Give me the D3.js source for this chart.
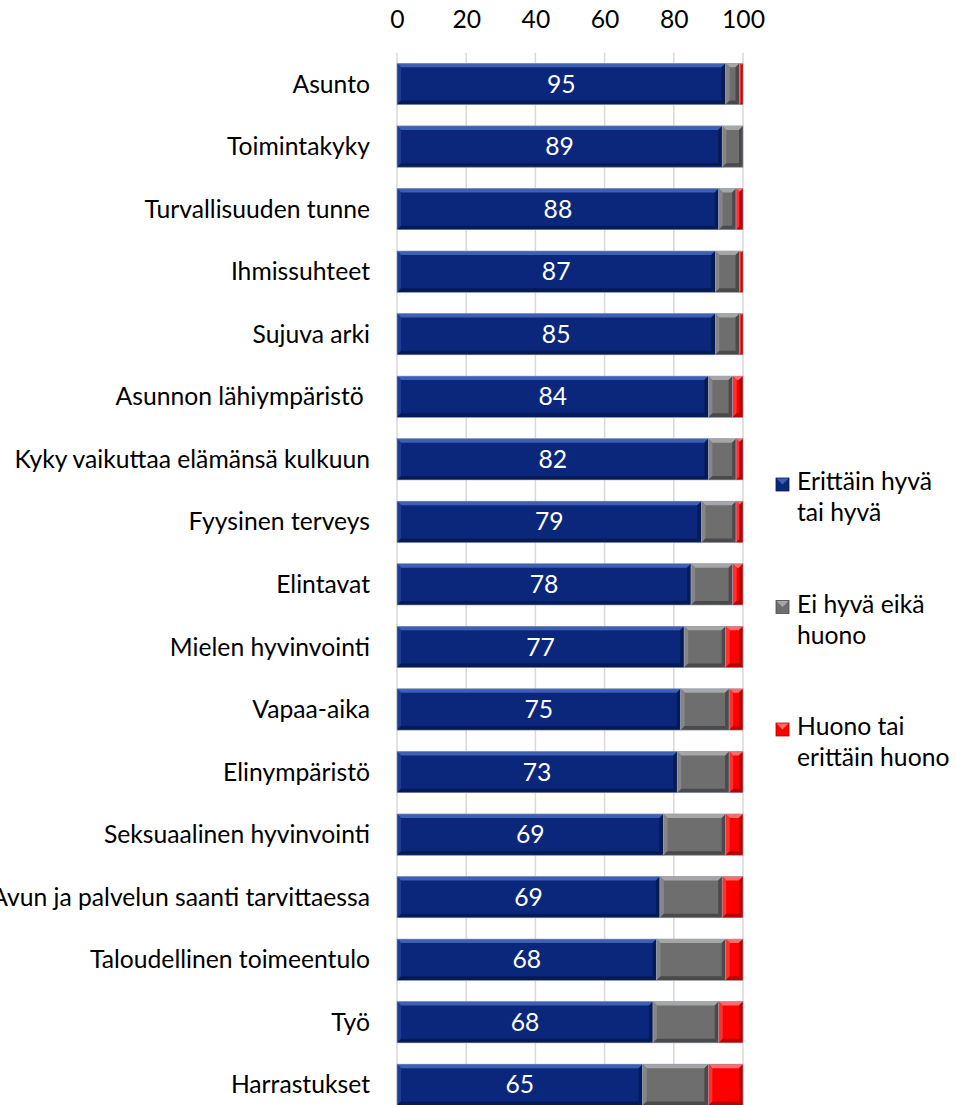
<!DOCTYPE html>
<html>
<head>
<meta charset="utf-8">
<title>Hyvinvointi</title>
<script src="https://cdn.jsdelivr.net/npm/d3@7"></script>
<style>
  body { margin: 0; background: #fff; }
  text { font-family: Lato, "Open Sans", sans-serif; }
</style>
</head>
<body>
<div id="chart"></div>
<script>
// categories, top to bottom
var categories = ["Asunto", "Toimintakyky", "Turvallisuuden tunne", "Ihmissuhteet", "Sujuva arki",
  "Asunnon lähiympäristö ", "Kyky vaikuttaa elämänsä kulkuun", "Fyysinen terveys", "Elintavat",
  "Mielen hyvinvointi", "Vapaa-aika", "Elinympäristö", "Seksuaalinen hyvinvointi",
  "Avun ja palvelun saanti tarvittaessa", "Taloudellinen toimeentulo", "Työ", "Harrastukset"];

// bar lengths (%)
var good    = [95, 94, 93, 92, 92, 90, 90, 88, 85, 83, 82, 81, 77, 76, 75, 74, 71];
var neutral = [4, 6, 5, 7, 7, 7, 8, 10, 12, 12, 14, 15, 18, 18, 20, 19, 19];
var bad     = [1, 0, 2, 1, 1, 3, 2, 2, 3, 5, 4, 4, 5, 6, 5, 7, 10];

// numbers printed inside the blue bars
var shown = [95, 89, 88, 87, 85, 84, 82, 79, 78, 77, 75, 73, 69, 69, 68, 68, 65];

var xTicks = [0, 20, 40, 60, 80, 100];

var legendLines = [["Erittäin hyvä", "tai hyvä"], ["Ei hyvä eikä", "huono"], ["Huono tai", "erittäin huono"]];
var colors = [
  {base: "#0b277b", light: "#3d5fb4", mid: "#1c3c94", dark: "#061a55"},
  {base: "#6e6e6e", light: "#a6a6a6", mid: "#858585", dark: "#4a4a4a"},
  {base: "#fe0000", light: "#ff6a6a", mid: "#ff3030", dark: "#b80000"}
];

var width = 956, height = 1105;
var plotLeft = 397, plotRight = 743;
var plotTop = 52.7, step = 62.55;
var fontSize = "24.7px";

var svg = d3.select("#chart").append("svg")
    .attr("width", width)
    .attr("height", height);

var x = d3.scaleLinear().domain([0, 100]).range([plotLeft, plotRight]);
var y = d3.scaleBand()
    .domain(categories)
    .range([plotTop, plotTop + step * categories.length])
    .paddingInner(0.34)
    .paddingOuter(0.17);

// gridlines
svg.append("g").selectAll("line")
    .data(xTicks)
  .enter().append("line")
    .attr("x1", function(d) { return x(d); })
    .attr("x2", function(d) { return x(d); })
    .attr("y1", plotTop)
    .attr("y2", height)
    .attr("stroke", "#d9d9d9")
    .attr("stroke-width", 1.5);

// top axis, labels only
var axis = svg.append("g")
    .attr("transform", "translate(0," + 28 + ")")
    .call(d3.axisTop(x).tickValues(xTicks).tickSize(0).tickPadding(0));
axis.select(".domain").remove();
axis.selectAll("text")
    .style("font-family", "Lato, 'Open Sans', sans-serif")
    .style("font-size", fontSize)
    .attr("fill", "#000");

// stacked data
var rows = categories.map(function(c, i) {
  return {cat: c, vals: [good[i], neutral[i], bad[i]], shown: shown[i]};
});

var segs = [];
rows.forEach(function(r) {
  var acc = 0;
  r.vals.forEach(function(v, k) {
    if (v > 0) segs.push({cat: r.cat, k: k, x0: acc, x1: acc + v});
    acc += v;
  });
});

// bevelled segments, like the Excel bar effect
var bevel = 4;
var g = svg.append("g");
var pts = function(p) { return p.map(function(q) { return q.join(","); }).join(" "); };
segs.forEach(function(s) {
  var x0 = x(s.x0), x1 = x(s.x1), y0 = y(s.cat), y1 = y0 + y.bandwidth();
  var b = Math.min(bevel, (x1 - x0) / 2);
  var c = colors[s.k];
  g.append("rect")
      .attr("x", x0).attr("y", y0)
      .attr("width", x1 - x0).attr("height", y1 - y0)
      .attr("fill", c.base);
  g.append("polygon")
      .attr("points", pts([[x0, y0], [x1, y0], [x1 - b, y0 + b], [x0 + b, y0 + b]]))
      .attr("fill", c.light);
  g.append("polygon")
      .attr("points", pts([[x0, y0], [x0 + b, y0 + b], [x0 + b, y1 - b], [x0, y1]]))
      .attr("fill", c.mid);
  g.append("polygon")
      .attr("points", pts([[x1, y0], [x1, y1], [x1 - b, y1 - b], [x1 - b, y0 + b]]))
      .attr("fill", c.dark);
  g.append("polygon")
      .attr("points", pts([[x0, y1], [x1, y1], [x1 - b, y1 - b], [x0 + b, y1 - b]]))
      .attr("fill", c.dark);
  g.append("rect")
      .attr("x", x0).attr("y", y0)
      .attr("width", x1 - x0).attr("height", y1 - y0)
      .attr("fill", "none")
      .attr("stroke", "#9aa4bd")
      .attr("stroke-width", 0.6);
});

// values inside blue part
svg.append("g").selectAll("text")
    .data(rows)
  .enter().append("text")
    .attr("x", function(d) { return (x(0) + x(d.vals[0])) / 2; })
    .attr("y", function(d) { return y(d.cat) + y.bandwidth() / 2; })
    .attr("dy", "0.35em")
    .attr("text-anchor", "middle")
    .attr("fill", "#fff")
    .style("font-size", fontSize)
    .text(function(d) { return d.shown; });

// category labels
svg.append("g").selectAll("text")
    .data(categories)
  .enter().append("text")
    .attr("x", 370)
    .attr("y", function(d) { return y(d) + y.bandwidth() / 2; })
    .attr("dy", "0.35em")
    .attr("text-anchor", "end")
    .attr("fill", "#000")
    .style("font-size", fontSize)
    .style("white-space", "pre")
    .text(function(d) { return d; });

// legend
var legend = svg.append("g");
legendLines.forEach(function(lines, k) {
  var ly = 490 + k * 122.5;
  var c = colors[k];
  var sx = 776, sy = ly - 12, sw = 13;
  legend.append("rect").attr("x", sx).attr("y", sy).attr("width", sw).attr("height", sw).attr("fill", c.base);
  legend.append("polygon")
      .attr("points", pts([[sx, sy], [sx + sw, sy], [sx + sw / 2, sy + sw / 2]]))
      .attr("fill", c.light);
  legend.append("rect").attr("x", sx).attr("y", sy).attr("width", sw).attr("height", sw)
      .attr("fill", "none").attr("stroke", c.dark).attr("stroke-width", 0.8);
  lines.forEach(function(t, j) {
    legend.append("text")
        .attr("x", 797)
        .attr("y", ly + j * 31)
        .attr("fill", "#000")
        .style("font-size", fontSize)
        .text(t);
  });
});
</script>
</body>
</html>
